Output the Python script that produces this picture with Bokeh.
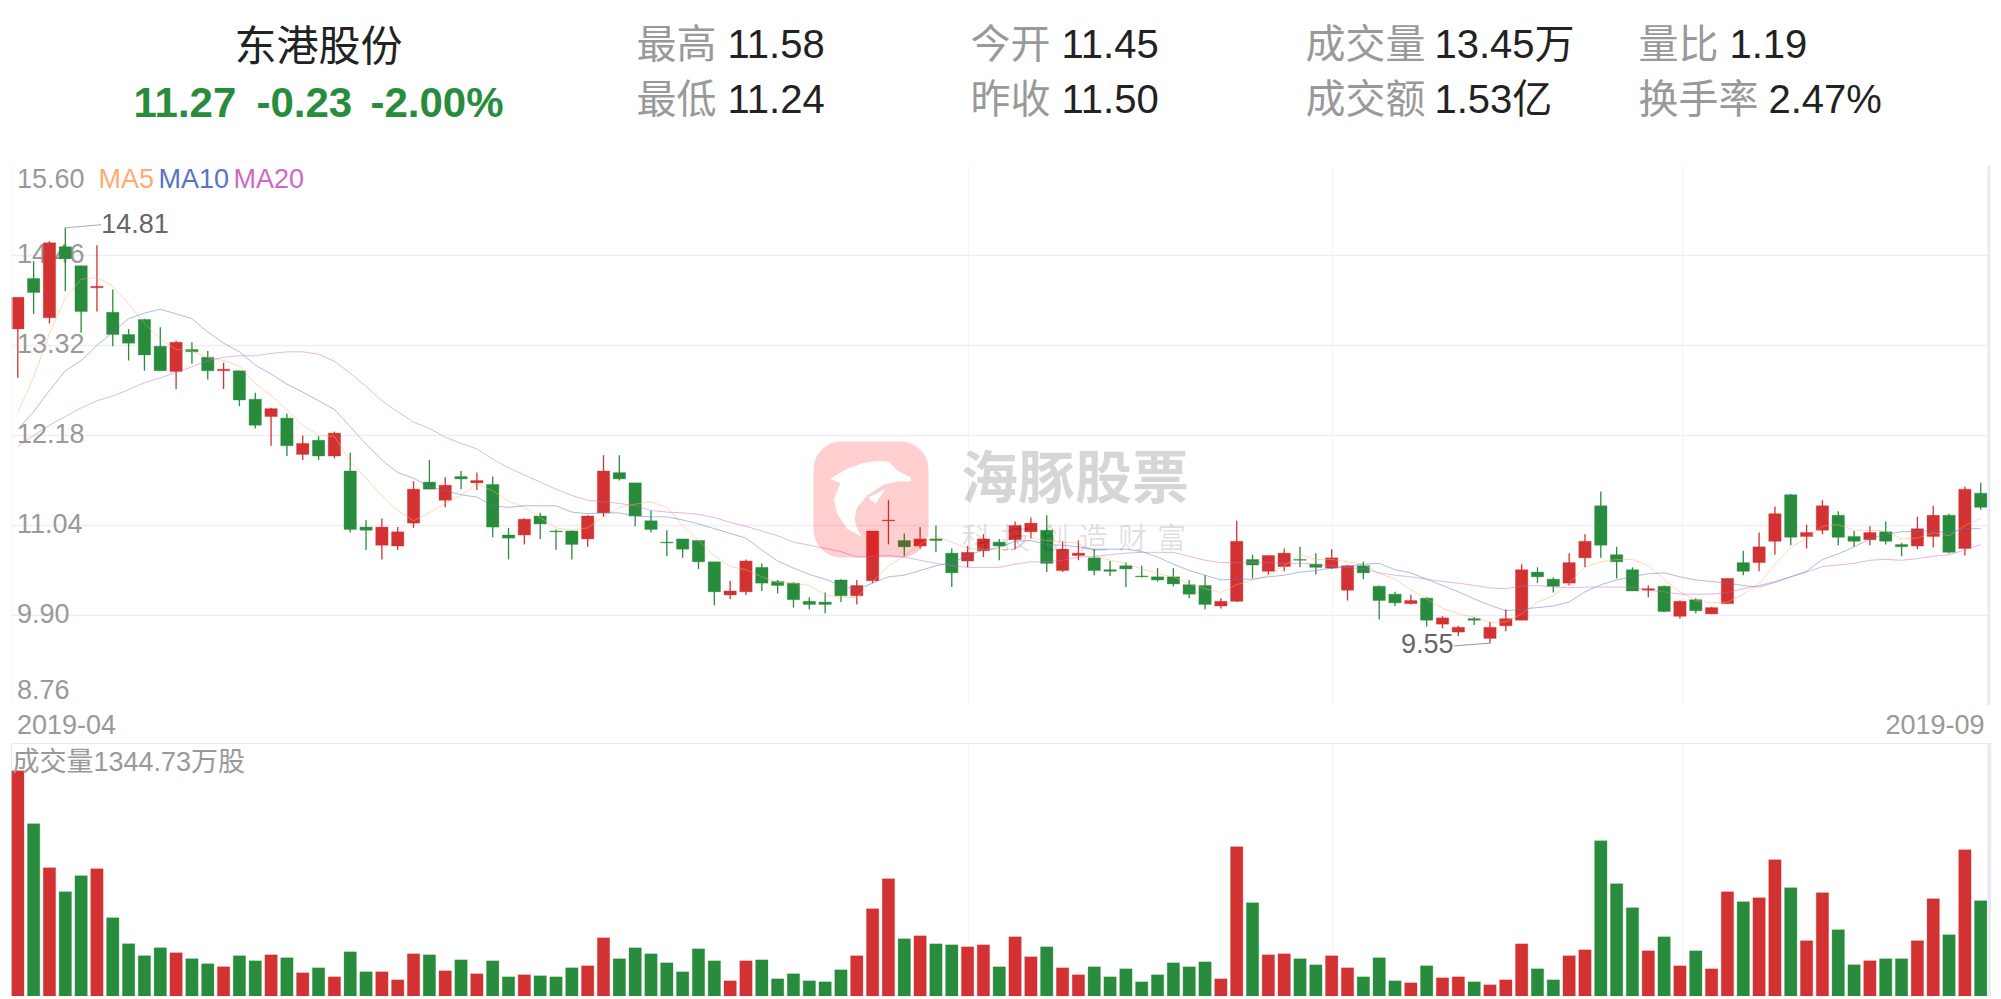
import numpy as np
from bokeh.plotting import figure
from bokeh.layouts import column
from bokeh.models import Range1d, FixedTicker, Grid, Span
from bokeh.core.properties import value
from bokeh.embed import file_html
from bokeh.resources import INLINE

stock_name = "东港股份"
quote = ["11.27", "-0.23", "-2.00%"]
stats = [("最高", "11.58"), ("最低", "11.24"), ("今开", "11.45"), ("昨收", "11.50"),
         ("成交量", "13.45万"), ("成交额", "1.53亿"), ("量比", "1.19"), ("换手率", "2.47%")]
y_ticks = ["15.60", "14.46", "13.32", "12.18", "11.04", "9.90", "8.76"]
date_labels = ["2019-04", "2019-09"]
volume_title = "成交量1344.73万股"
month_starts = [60.05, 83.05, 105.15]

open_ = [13.53,14.17,13.67,14.57,14.33,14.05,13.74,13.46,13.65,13.31,
 12.99,13.27,13.17,13.00,13.00,12.64,12.42,12.40,11.94,12.12,
 11.92,11.73,11.02,10.79,10.78,11.07,11.59,11.36,11.66,11.58,
 11.56,10.92,10.92,11.16,10.97,10.97,10.87,11.20,11.71,11.58,
 11.10,10.83,10.87,10.85,10.58,10.16,10.20,10.51,10.33,10.31,
 10.08,10.07,10.35,10.15,10.34,11.10,10.85,10.78,10.87,10.69,
 10.59,10.72,10.83,10.86,10.96,10.98,10.47,10.66,10.63,10.48,
 10.53,10.40,10.39,10.39,10.29,10.28,10.02,10.08,10.61,10.46,
 10.52,10.61,10.55,10.50,10.22,10.53,10.27,10.17,10.05,10.12,
 9.79,9.69,9.86,9.61,9.77,9.84,10.45,10.36,10.31,10.63,
 11.29,10.67,10.48,10.22,10.27,9.89,10.10,9.92,10.05,10.57,
 10.57,10.84,11.43,10.90,10.98,11.17,10.90,10.86,10.96,10.80,
 10.78,10.90,11.17,10.75,11.45]
close = [13.93,13.99,14.62,14.42,13.75,14.07,13.46,13.35,13.20,13.00,
 13.36,13.24,13.00,13.02,12.63,12.31,12.52,12.05,12.08,11.92,
 12.21,10.99,10.98,11.02,10.96,11.50,11.50,11.55,11.63,11.61,
 11.02,10.88,11.12,11.06,10.96,10.80,11.16,11.73,11.63,11.16,
 10.99,10.82,10.74,10.58,10.20,10.21,10.59,10.31,10.28,10.10,
 10.04,10.04,10.15,10.28,10.97,11.11,10.77,10.87,10.85,10.44,
 10.70,10.87,10.78,11.04,11.07,10.56,10.74,10.69,10.47,10.46,
 10.49,10.39,10.35,10.30,10.17,10.04,10.08,10.84,10.54,10.66,
 10.69,10.60,10.51,10.63,10.53,10.44,10.09,10.06,10.09,9.84,
 9.87,9.75,9.84,9.75,9.86,10.48,10.39,10.27,10.57,10.84,
 10.79,10.58,10.21,10.24,9.95,10.08,9.96,10.00,10.37,10.46,
 10.77,11.19,10.89,10.95,11.29,10.89,10.84,10.95,10.84,10.77,
 11.00,11.17,10.70,11.50,11.27]
high = [13.93,14.39,14.64,14.81,14.33,14.59,14.03,13.53,13.66,13.55,
 13.38,13.36,13.25,13.10,13.00,12.72,12.53,12.46,12.18,12.17,
 12.23,11.96,11.11,11.13,11.02,11.60,11.87,11.65,11.73,11.71,
 11.66,11.01,11.13,11.20,10.99,10.98,11.17,11.93,11.93,11.58,
 11.23,10.98,10.87,10.85,10.58,10.34,10.61,10.56,10.35,10.32,
 10.13,10.19,10.36,10.35,10.97,11.36,10.94,11.02,11.04,10.75,
 10.78,10.93,10.87,11.09,11.14,11.17,10.84,10.85,10.74,10.59,
 10.57,10.53,10.50,10.50,10.35,10.41,10.12,11.10,10.67,10.66,
 10.75,10.77,10.69,10.74,10.54,10.58,10.28,10.20,10.16,10.13,
 9.89,9.77,9.88,9.82,9.98,10.55,10.51,10.38,10.69,10.93,
 11.47,10.77,10.51,10.28,10.28,10.09,10.12,10.01,10.37,10.72,
 10.95,11.28,11.44,11.05,11.36,11.22,10.97,11.03,11.09,10.82,
 11.15,11.29,11.19,11.53,11.58]
low = [12.91,13.72,13.60,14.01,13.48,13.75,13.31,13.13,13.00,13.00,
 12.77,13.09,12.89,12.77,12.55,12.27,12.05,11.92,11.87,11.87,
 11.89,10.95,10.73,10.61,10.73,11.01,11.50,11.27,11.50,11.49,
 10.89,10.61,10.80,10.87,10.73,10.61,10.77,11.15,11.61,11.03,
 10.95,10.65,10.63,10.49,10.03,10.11,10.16,10.21,10.18,10.00,
 9.98,9.93,10.07,10.04,10.31,10.80,10.65,10.75,10.70,10.26,
 10.51,10.64,10.60,10.74,10.88,10.45,10.45,10.60,10.41,10.40,
 10.26,10.38,10.33,10.27,10.12,9.98,9.99,10.07,10.37,10.42,
 10.46,10.51,10.42,10.49,10.09,10.36,9.85,10.02,10.04,9.76,
 9.74,9.64,9.78,9.55,9.70,9.84,10.31,10.19,10.28,10.51,
 10.63,10.37,10.21,10.13,9.94,9.86,9.93,9.92,10.05,10.41,
 10.46,10.67,10.79,10.75,10.93,10.79,10.77,10.79,10.80,10.65,
 10.74,10.76,10.69,10.66,11.24]
ma5 = [12.47,12.92,13.47,13.92,14.16,14.18,14.07,13.85,13.60,13.40,
 13.27,13.25,13.17,13.13,13.06,12.84,12.69,12.50,12.31,12.18,
 12.17,11.85,11.64,11.42,11.23,11.10,11.20,11.32,11.42,11.57,
 11.48,11.35,11.27,11.14,11.01,10.98,11.01,11.15,11.27,11.31,
 11.34,11.27,11.04,10.85,10.66,10.52,10.48,10.39,10.32,10.31,
 10.28,10.16,10.13,10.13,10.33,10.53,10.65,10.80,10.91,10.83,
 10.75,10.74,10.73,10.74,10.88,10.85,10.83,10.82,10.66,10.60,
 10.56,10.49,10.43,10.39,10.30,10.24,10.19,10.29,10.35,10.41,
 10.53,10.67,10.61,10.61,10.58,10.55,10.43,10.36,10.23,10.11,
 9.99,9.92,9.88,9.81,9.82,9.92,10.07,10.15,10.31,10.51,
 10.58,10.61,10.61,10.53,10.36,10.20,10.09,10.06,10.07,10.17,
 10.30,10.55,10.76,10.88,11.03,11.05,10.98,10.98,10.97,10.87,
 10.88,10.95,10.91,11.04,11.13]
ma10 = [12.26,12.48,12.75,13.00,13.13,13.32,13.49,13.66,13.73,13.78,
 13.72,13.66,13.49,13.35,13.24,13.07,12.96,12.83,12.73,12.62,
 12.51,12.29,12.07,11.87,11.71,11.64,11.53,11.48,11.43,11.40,
 11.29,11.27,11.29,11.29,11.29,11.21,11.19,11.20,11.20,11.16,
 11.15,11.15,11.11,11.06,11.00,10.94,10.88,10.73,10.59,10.50,
 10.42,10.36,10.28,10.23,10.31,10.39,10.41,10.47,10.53,10.57,
 10.66,10.73,10.76,10.84,10.85,10.80,10.79,10.77,10.74,10.74,
 10.74,10.71,10.64,10.55,10.47,10.41,10.35,10.36,10.36,10.39,
 10.41,10.45,10.47,10.50,10.52,10.55,10.56,10.48,10.44,10.36,
 10.28,10.20,10.11,10.03,9.96,9.98,10.00,10.02,10.07,10.20,
 10.29,10.35,10.39,10.43,10.44,10.39,10.35,10.33,10.31,10.28,
 10.26,10.32,10.39,10.46,10.61,10.68,10.77,10.87,10.93,10.96,
 10.97,10.97,10.95,11.00,11.00]
ma20 = [12.04,12.18,12.31,12.42,12.53,12.62,12.68,12.76,12.85,12.91,
 12.98,13.05,13.13,13.17,13.19,13.19,13.22,13.24,13.24,13.21,
 13.12,12.97,12.80,12.62,12.48,12.35,12.27,12.16,12.08,12.01,
 11.88,11.77,11.68,11.59,11.50,11.42,11.36,11.34,11.32,11.29,
 11.23,11.21,11.20,11.18,11.14,11.08,11.03,10.97,10.91,10.83,
 10.79,10.75,10.71,10.64,10.65,10.66,10.64,10.60,10.56,10.53,
 10.51,10.51,10.51,10.55,10.58,10.58,10.60,10.64,10.65,10.67,
 10.69,10.70,10.70,10.70,10.65,10.60,10.57,10.57,10.57,10.57,
 10.56,10.56,10.55,10.53,10.51,10.49,10.44,10.41,10.39,10.36,
 10.33,10.31,10.28,10.25,10.24,10.27,10.28,10.26,10.25,10.26,
 10.26,10.26,10.26,10.22,10.20,10.17,10.17,10.17,10.19,10.24,
 10.28,10.33,10.39,10.45,10.52,10.54,10.56,10.60,10.61,10.60,
 10.62,10.65,10.67,10.73,10.80]
volume = [3172,2427,1809,1471,1696,1795,1106,740,572,684,
 614,530,459,417,572,501,586,544,333,403,
 276,628,347,347,234,600,586,361,515,319,
 501,276,305,291,276,403,431,825,530,684,
 600,473,347,670,501,220,501,515,248,319,
 220,206,375,572,1232,1654,811,853,740,726,
 698,726,417,839,558,698,403,305,417,276,
 389,206,305,473,417,487,248,2104,1317,586,
 600,530,445,572,403,276,544,220,192,431,
 262,276,206,164,234,740,389,234,572,656,
 2188,1584,1246,642,839,431,642,389,1471,1331,
 1387,1921,1528,783,1457,937,445,501,530,530,
 783,1373,867,2062,1345]
for arr in (open_, close, high, low, ma5, ma10, ma20, volume):
    assert len(arr) == 125

RED, GREEN = "#d23232", "#288c3c"
GREY, DARK = "#999999", "#222222"
GRID = "#eeeef6"
MA_COLORS = {"MA5": "#ffab6e", "MA10": "#5874c4", "MA20": "#cf68c4"}
LAT = value("Liberation Sans, 'Noto Sans CJK SC'")
CJK = value("Noto Sans CJK SC")

W = 2001
X0, X1 = 11, 1990          # frame edges on the page
PITCH, FIRST = 15.83, 17.3
x_start, x_end = (X0 - FIRST) / PITCH, (X1 - FIRST) / PITCH
x = np.arange(125)
rising = np.array(close) >= np.array(open_)
bar_color = [RED if r else GREEN for r in rising]


def base(height, xr, yr, **kw):
    p = figure(width=W, height=height, x_range=xr, y_range=yr, output_backend="svg",
               toolbar_location=None, x_axis_location=None, y_axis_location=None, **kw)
    p.outline_line_color = None
    p.grid.visible = False
    p.min_border_top = p.min_border_bottom = 0
    p.min_border_left, p.min_border_right = X0, W - X1
    p.background_fill_color = "#ffffff"
    return p


def label(p, xs, ys, txt, size, color, align="left", baseline="middle", font=LAT, **kw):
    p.text(x=xs, y=ys, text=txt, text_font=font, text_font_size=f"{size}px", text_color=color,
           text_align=align, text_baseline=baseline, **kw)


# ---- header
head = base(165, Range1d(X0, X1), Range1d(165, 0))
label(head, [318], [46], [stock_name], 42, DARK, align="center")
for t, xp in zip(quote, [133, 256, 370]):
    label(head, [xp], [102], [t], 42, GREEN, font_style="bold")
stat_x = [(636, 727), (636, 727), (970, 1061), (970, 1061), (1305, 1434), (1305, 1434), (1638, 1729), (1638, 1768)]
stat_y = [43, 98] * 4
for (lab, val), (xa, xb), yy in zip(stats, stat_x, stat_y):
    label(head, [xa], [yy], [lab], 40, GREY)
    label(head, [xb], [yy], [val], 40, DARK)

# ---- price panel
TOP_P, BOT_P = 15.60, 8.76
price = base(540, Range1d(x_start, x_end), Range1d(BOT_P, TOP_P))
price.extra_x_ranges = {"px": Range1d(X0, X1)}
price.extra_y_ranges = {"px": Range1d(705, 165)}
tick_vals = [float(t) for t in y_ticks]
price.add_layout(Grid(dimension=1, ticker=FixedTicker(ticks=tick_vals[:-1]), grid_line_color=GRID, grid_line_width=1.5, axis=None))
price.add_layout(Grid(dimension=0, ticker=FixedTicker(ticks=month_starts), grid_line_color="#f2f2f8", grid_line_width=1, axis=None))
price.add_layout(Span(location=x_start + 0.5 / PITCH, dimension="height", line_color=GRID, line_width=1))
price.add_layout(Span(location=(1988.5 - FIRST) / PITCH, dimension="height", line_color="#e6eaf4", line_width=3))

label(price, [16.5], [178], y_ticks[:1], 27, GREY, x_range_name="px", y_range_name="px")
label(price, [16.5] * 5, tick_vals[1:-1], y_ticks[1:-1], 27, GREY, y_offset=-2, x_range_name="px")
label(price, [16.5], [689], y_ticks[-1:], 27, GREY, x_range_name="px", y_range_name="px")
for name, xp in zip(MA_COLORS, [98, 158, 233]):
    label(price, [xp], [178], [name], 27, MA_COLORS[name], x_range_name="px", y_range_name="px")

price.segment(x, low, x, high, line_color=bar_color, line_width=1.3)
price.vbar(x=x, top=np.maximum(open_, close), bottom=np.minimum(open_, close), width=0.78,
           fill_color=bar_color, line_color=bar_color, line_alpha=0.35, line_width=1)
for name, series in zip(MA_COLORS, [ma5, ma10, ma20]):
    price.line(x, series, line_color=MA_COLORS[name], line_width=0.9, line_alpha=0.55)

# high / low call-outs
price.line([3, 5.26], [max(high), 14.85], line_color="#aaaaaa", line_width=1)
label(price, [3], [max(high)], [f"{max(high):.2f}"], 27, "#666666", x_offset=36, y_offset=-4)
price.line([93, 90.7], [min(low), 9.515], line_color="#999999", line_width=1)
label(price, [93], [min(low)], [f"{min(low):.2f}"], 27, "#666666", align="right", x_offset=-36.5)


# watermark, placed in page pixels
def rounded(x0, y0, x1, y1, r):
    xs, ys = [], []
    for cx, cy, a0 in [(x1 - r, y0 + r, -90), (x1 - r, y1 - r, 0), (x0 + r, y1 - r, 90), (x0 + r, y0 + r, 180)]:
        t = np.radians(np.linspace(a0, a0 + 90, 12))
        xs += list(cx + r * np.cos(t))
        ys += list(cy + r * np.sin(t))
    return xs, ys


dolphin = [(988, 175), (1040, 145), (1085, 128), (1130, 121), (1165, 124), (1190, 150), (1230, 170), (1232, 183),
           (1190, 183), (1150, 192), (1100, 225), (1070, 260), (1062, 295), (1070, 325), (1085, 350), (1040, 325),
           (1010, 280), (1000, 235), (1020, 188)]
eye = [(1103, 232), (1155, 205), (1125, 250)]
dx = [500 + a / 3 for a, _ in dolphin]
dy = [420 + b / 3 for _, b in dolphin]
ex = [500 + a / 3 for a, _ in eye]
ey = [420 + b / 3 for _, b in eye]
rx, ry = rounded(813, 441, 928, 557, 28)
price.multi_polygons(xs=[[[rx, dx], [ex]]], ys=[[[ry, dy], [ey]]], fill_color="#ff0000", fill_alpha=0.19,
                     line_alpha=0, x_range_name="px", y_range_name="px")
label(price, [1074.5], [472], ["海豚股票"], 57, "#000000", align="center", font=CJK, font_style="bold",
      text_alpha=0.16, x_range_name="px", y_range_name="px")
for k, ch in enumerate("科技创造财富"):
    label(price, [976 + 39 * k], [535], [ch], 29, "#000000", align="center", font=CJK, text_alpha=0.12,
          x_range_name="px", y_range_name="px")

# ---- date strip
strip = base(38, Range1d(X0, X1), Range1d(743, 705))
label(strip, [16.5], [724], date_labels[:1], 27, GREY)
label(strip, [1984], [724], date_labels[1:], 27, GREY, align="right")

# ---- volume panel
vol = base(253, Range1d(x_start, x_end), Range1d(0, 3556.7))
vol.outline_line_color = "#e8e8f2"
vol.add_layout(Grid(dimension=0, ticker=FixedTicker(ticks=month_starts), grid_line_color="#f2f2f8", grid_line_width=1, axis=None))
vol.add_layout(Span(location=(1988.5 - FIRST) / PITCH, dimension="height", line_color="#e6eaf4", line_width=3))
vol.vbar(x=x, top=volume, width=0.78, fill_color=bar_color, line_color=bar_color, line_alpha=0.3, line_width=1)
vol.extra_x_ranges = {"px": Range1d(X0, X1)}
vol.extra_y_ranges = {"px": Range1d(996, 743)}
label(vol, [12], [761], [volume_title], 27, GREY, x_range_name="px", y_range_name="px")

page = column(head, price, strip, vol, spacing=0)
open("out.html", "w").write(file_html(page, INLINE))
